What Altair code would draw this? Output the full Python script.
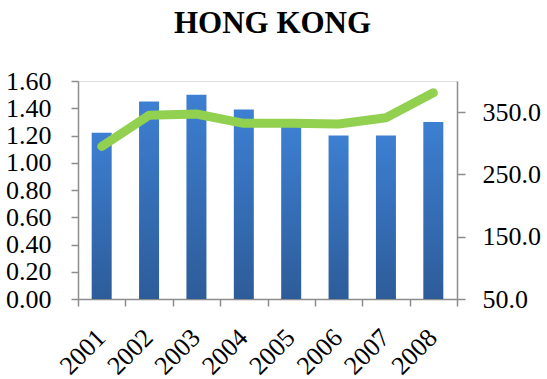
import altair as alt
import pandas as pd

years = ["2001", "2002", "2003", "2004", "2005", "2006", "2007", "2008"]
bar_values = [1.22, 1.45, 1.50, 1.39, 1.27, 1.20, 1.20, 1.30]
line_values = [295, 345, 347, 332, 332, 331, 341, 381]
left_ticks = [0, 0.2, 0.4, 0.6, 0.8, 1.0, 1.2, 1.4, 1.6]
right_ticks = [50, 150, 250, 350]

df = pd.DataFrame({"year": years, "ratio": bar_values, "index": line_values})

FONT = "Liberation Serif"
AXIS_COLOR = "#8c8c8c"

x = alt.X(
    "year:N",
    sort=years,
    scale=alt.Scale(paddingInner=0.0, paddingOuter=0.0),
    axis=alt.Axis(
        title=None,
        labelAngle=-45,
        labelFont=FONT,
        labelFontSize=26,
        labelColor="black",
        labelPadding=18,
        labelOffset=-10,
        tickBand="extent",
        tickSize=7,
        tickColor=AXIS_COLOR,
        domainColor=AXIS_COLOR,
        tickWidth=1.5,
        domainWidth=1.5,
    ),
)

bars = alt.Chart(df).mark_bar(
    size=20,
    color=alt.Gradient(
        gradient="linear",
        stops=[
            alt.GradientStop(color="#3d7fd2", offset=0),
            alt.GradientStop(color="#2d5c99", offset=1),
        ],
        x1=0, x2=0, y1=0, y2=1,
    ),
).encode(
    x=x,
    y=alt.Y(
        "ratio:Q",
        scale=alt.Scale(domain=[0, 1.6], nice=False, zero=True),
        axis=alt.Axis(
            title=None,
            values=left_ticks,
            format=".2f",
            grid=False,
            labelFont=FONT,
            labelFontSize=26,
            labelColor="black",
            labelPadding=20,
            tickSize=7,
            tickColor=AXIS_COLOR,
            domainColor=AXIS_COLOR,
            tickWidth=1.5,
            domainWidth=1.5,
        ),
    ),
)

line = alt.Chart(df).mark_line(
    color="#92d050", strokeWidth=9, strokeCap="round", strokeJoin="round"
).encode(
    x=x,
    y=alt.Y(
        "index:Q",
        scale=alt.Scale(domain=[50, 400], nice=False, zero=False),
        axis=alt.Axis(
            title=None,
            orient="right",
            values=right_ticks,
            format=".1f",
            grid=False,
            labelFont=FONT,
            labelFontSize=26,
            labelColor="black",
            labelPadding=17,
            tickSize=8,
            tickColor=AXIS_COLOR,
            domainColor=AXIS_COLOR,
            tickWidth=1.5,
            domainWidth=1.5,
        ),
    ),
)

chart = (
    alt.layer(bars, line)
    .resolve_scale(y="independent")
    .properties(
        width=379,
        height=218,
        title=alt.TitleParams(
            "HONG KONG",
            font=FONT,
            fontSize=31,
            fontWeight="bold",
            color="black",
            anchor="middle",
            dx=5,
            offset=28,
        ),
        autosize=alt.AutoSizeParams(type="none"),
        padding={"left": 78, "top": 81, "right": 90, "bottom": 80},
    )
    .configure_view(stroke=None)
    .configure(background="white")
)

chart.save("out.html", embed_options={"renderer": "svg", "actions": False})
